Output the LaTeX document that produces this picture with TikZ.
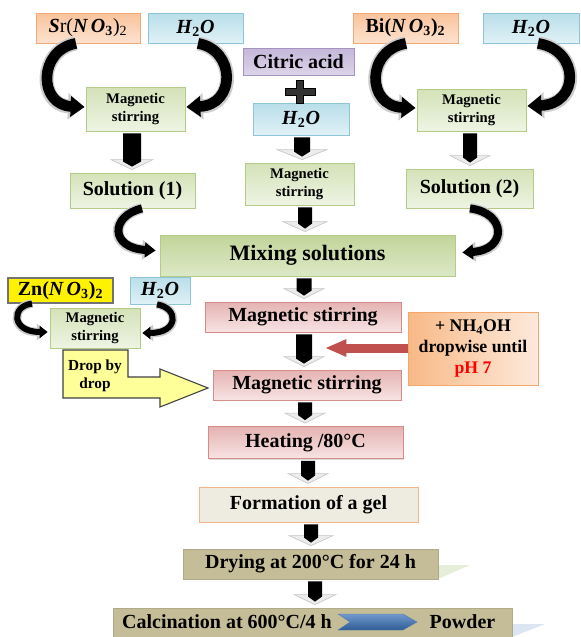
\documentclass[tikz,border=0pt]{standalone}
\usepackage{fontspec}
\setmainfont{Liberation Serif}
\usetikzlibrary{arrows.meta,shadows,calc}

\definecolor{orTop}{HTML}{F9C39B}
\definecolor{orBot}{HTML}{FCE2CF}
\definecolor{orBd}{HTML}{F2A877}
\definecolor{blTop}{HTML}{B9DEEA}
\definecolor{blBot}{HTML}{E0F1F6}
\definecolor{blBd}{HTML}{8EC6D8}
\definecolor{liTop}{HTML}{C4B7D9}
\definecolor{liBot}{HTML}{DCD4E8}
\definecolor{liBd}{HTML}{A593C2}
\definecolor{gnTop}{HTML}{D4E2B8}
\definecolor{gnBot}{HTML}{EEF4E3}
\definecolor{gnBd}{HTML}{B5CB88}
\definecolor{mxTop}{HTML}{C2D59A}
\definecolor{mxBot}{HTML}{DCE8C6}
\definecolor{pkTop}{HTML}{E4B3B2}
\definecolor{pkBot}{HTML}{F7E4E3}
\definecolor{pkBd}{HTML}{D48B89}
\definecolor{nhTop}{HTML}{F8B987}
\definecolor{nhBot}{HTML}{FDEADB}
\definecolor{nhBd}{HTML}{F4A66B}
\definecolor{gelFill}{HTML}{EEECE1}
\definecolor{gelBd}{HTML}{F5B48A}
\definecolor{tanFill}{HTML}{C4BD97}
\definecolor{dropFill}{HTML}{FFFF99}
\definecolor{arrRed}{HTML}{C0504D}
\definecolor{chevTop}{HTML}{7199CE}
\definecolor{chevBot}{HTML}{2E5C94}
\definecolor{faintGn}{HTML}{E4EED8}
\definecolor{faintBl}{HTML}{DCE6F2}

\tikzset{
  box/.style={rectangle, draw, line width=0.6pt, inner sep=1pt, align=center,
    font=\bfseries\fontsize{15}{18}\selectfont,
    drop shadow={shadow xshift=1.1pt, shadow yshift=-1.1pt, opacity=0.28}},
  orbox/.style={box, draw=orBd, top color=orTop, bottom color=orBot},
  blbox/.style={box, draw=blBd, top color=blTop, bottom color=blBot},
  libox/.style={box, draw=liBd, top color=liTop, bottom color=liBot},
  gnbox/.style={box, draw=gnBd, top color=gnTop, bottom color=gnBot},
  stirbox/.style={gnbox, font=\bfseries\fontsize{11}{13.5}\selectfont},
  mxbox/.style={box, draw=gnBd, top color=mxTop, bottom color=mxBot,
    font=\bfseries\fontsize{16.5}{19}\selectfont},
  pkbox/.style={box, draw=pkBd, top color=pkTop, bottom color=pkBot},
  nhbox/.style={box, draw=nhBd, left color=nhTop, right color=nhBot,
    font=\bfseries\fontsize{13.3}{15.5}\selectfont},
  gelbox/.style={box, draw=gelBd, fill=gelFill},
  tanbox/.style={box, draw=tanFill!90!black, fill=tanFill},
  znbox/.style={box, draw=black!55, line width=0.9pt, fill=yellow},
  bigout/.style={draw=gray!40, line width=10.5pt, -{Triangle[width=19pt,length=12.5pt]}},
  bigin/.style={draw=black, line width=8pt, -{Triangle[width=15pt,length=10.5pt]}},
  midout/.style={draw=gray!40, line width=8pt, -{Triangle[width=14.5pt,length=10pt]}},
  midin/.style={draw=black, line width=6pt, -{Triangle[width=11pt,length=8pt]}},
  smallout/.style={draw=gray!40, line width=6.5pt, -{Triangle[width=12pt,length=8pt]}},
  smallin/.style={draw=black, line width=4.5pt, -{Triangle[width=9pt,length=6pt]}},
  redarr/.style={draw=arrRed, line width=6.75pt, -{Triangle[width=12pt,length=16pt]}},
  txt/.style={inner sep=0pt, font=\bfseries\fontsize{15}{18}\selectfont}
}

% vertical block connector: source, target, x (px), shaft half width, head half width
\newcommand\vconn[5]{%
  \path[fill=gray!15, draw=gray!45, line width=0.5pt]
    let \p1=(#3,0 |- #1.south), \p2=(#3,0 |- #2.north) in
    (\x1-#5*0.75pt,\y2+9.75pt) -- (\x1+#5*0.75pt,\y2+9.75pt) -- (\x1,\y2+2.25pt) -- cycle;
  \path[fill=black]
    let \p1=(#3,0 |- #1.south), \p2=(#3,0 |- #2.north) in
    (\x1-#4*0.75pt,\y1-1.5pt) -- (\x1+#4*0.75pt,\y1-1.5pt) -- (\x1+#4*0.75pt,\y2+8.25pt)
    -- (\x1,\y2+4.5pt) -- (\x1-#4*0.75pt,\y2+8.25pt) -- cycle;
}
% curved connector: size, start, control1, control2, end
\newcommand\carrow[5]{%
  \draw[#1out] #2 .. controls #3 and #4 .. #5;
  \draw[#1in] #2 .. controls #3 and #4 .. #5;
}
\newcommand\chem[1]{\textbf{\textit{#1}}}

\begin{document}
\begin{tikzpicture}[x=0.75pt, y=-0.75pt]
\clip (0,0) rectangle (581,637);
\fill[white] (0,0) rectangle (581,637);

% faint background remnants
\fill[faintGn] (438,565) -- (470,565) -- (438,579) -- cycle;
\fill[faintBl] (512,624) -- (545,624) -- (512,637) -- cycle;

% ---- top row
\node[orbox, minimum width=78pt, minimum height=22.5pt] (sr) at (88,28)
  {\chem{S}\mdseries r(\chem{N\,O}\textsubscript{\bfseries 3})\textsubscript{2}};
\node[blbox, minimum width=71.25pt, minimum height=22.5pt] (h2oL) at (195.5,28)
  {\chem{H}\textsubscript{\bfseries 2}\chem{O}};
\node[orbox, minimum width=78.75pt, minimum height=22.5pt] (bi) at (405.5,28)
  {Bi(\chem{N\,O}\textsubscript{\bfseries 3})\textsubscript{\bfseries 2}};
\node[blbox, minimum width=72pt, minimum height=22.5pt] (h2oR) at (531,28)
  {\chem{H}\textsubscript{\bfseries 2}\chem{O}};
\node[libox, minimum width=83.25pt, minimum height=20.25pt] (citric) at (298.5,61.5) {Citric acid};
\node[blbox, minimum width=72pt, minimum height=24pt] (h2oC) at (301,119)
  {\chem{H}\textsubscript{\bfseries 2}\chem{O}};

% plus sign
\path[fill=black!80, draw=black, line width=0.4pt]
  (285,88) -- (296.5,88) -- (296.5,80) -- (303.5,80) -- (303.5,88) -- (315,88) -- (315,95)
  -- (303.5,95) -- (303.5,103) -- (296.5,103) -- (296.5,95) -- (285,95) -- cycle;

% ---- stirring boxes
\node[stirbox, minimum width=74.25pt, minimum height=33pt] (stirL) at (135.5,109) {Magnetic\\stirring};
\node[stirbox, minimum width=81.75pt, minimum height=31.5pt] (stirC) at (299.5,184) {Magnetic\\stirring};
\node[stirbox, minimum width=81.75pt, minimum height=31.5pt] (stirR) at (471.5,110) {Magnetic\\stirring};

% ---- solutions
\node[gnbox, minimum width=93.75pt, minimum height=26.25pt] (sol1) at (132.5,190.5) {Solution (1)};
\node[gnbox, minimum width=95.25pt, minimum height=29.25pt] (sol2) at (469.5,188.5) {Solution (2)};
\node[mxbox, minimum width=221.25pt, minimum height=30.75pt] (mix) at (307.5,255.5) {Mixing solutions};

% ---- Zn branch
\node[znbox, minimum width=78.75pt, minimum height=18.75pt] (zn) at (60.5,290.5)
  {Zn(\chem{N\,O}\textsubscript{\bfseries 3})\textsubscript{\bfseries 2}};
\node[blbox, minimum width=45pt, minimum height=20.25pt] (h2oS) at (160,290.5)
  {\chem{H}\textsubscript{\bfseries 2}\chem{O}};
\node[stirbox, minimum width=67.5pt, minimum height=30pt] (stirZ) at (95,328) {Magnetic\\stirring};

% drop by drop block arrow
\path[fill=dropFill, draw=black!75, line width=0.8pt]
  (63,350) -- (128,350) -- (128,377) -- (160,377) -- (160,369) -- (208,388)
  -- (160,407) -- (160,398) -- (63,398) -- cycle;
\node[inner sep=0pt, align=center, font=\bfseries\fontsize{11.5}{13.5}\selectfont] (dropt) at (95,376) {Drop by\\drop};

% ---- main column
\node[pkbox, minimum width=147pt, minimum height=22.5pt] (pink1) at (303,317) {Magnetic stirring};
\node[nhbox, minimum width=97.5pt, minimum height=54.75pt] (nh) at (473,348.5)
  {+ NH\textsubscript{4}OH\\dropwise until\\\textcolor{red}{pH 7}};
\node[pkbox, minimum width=141pt, minimum height=22.5pt] (pink2) at (307,385) {Magnetic stirring};
\node[pkbox, minimum width=146.25pt, minimum height=24pt] (heat) at (305.5,442.5) {Heating /80°C};
\node[gelbox, minimum width=164.25pt, minimum height=26.25pt] (gel) at (308.5,504.5) {Formation of a gel};
\node[tanbox, minimum width=191.25pt, minimum height=22.5pt] (dry) at (310.5,564) {Drying at 200°C for 24 h};
\node[tanbox, minimum width=299.25pt, minimum height=22.5pt] (calc) at (312.5,623) {};
\node[txt] (calct) at (227,622) {Calcination at 600°C/4 h};
\node[txt] (powder) at (462.5,622) {Powder};
\path[top color=chevTop, bottom color=chevBot, draw=chevBot!80, line width=0.3pt]
  (338,614) -- (403,614) -- (417,622) -- (403,630) -- (338,630) -- (350,622) -- cycle;

% ---- curved connectors
\carrow{big}{(76,0 |- sr.south)}{(38,50)}{(38,105)}{($(stirL.west)+(-1,-2)$)}
\carrow{big}{(198,0 |- h2oL.south)}{(236,50)}{(236,105)}{($(stirL.east)+(1,-2)$)}
\carrow{big}{(406,0 |- bi.south)}{(366,50)}{(366,106)}{($(stirR.west)+(-1,-2)$)}
\carrow{big}{(538,0 |- h2oR.south)}{(580,50)}{(580,104)}{($(stirR.east)+(1,-4)$)}
\carrow{mid}{(142,0 |- sol1.south)}{(110,216)}{(110,248)}{($(mix.west)+(-4,-5)$)}
\carrow{mid}{(470,0 |- sol2.south)}{(507,213)}{(507,250)}{($(mix.east)+(7,-3)$)}
\carrow{small}{(32,0 |- zn.south)}{(11,306)}{(11,332)}{($(stirZ.west)+(-2,4)$)}
\carrow{small}{(157,0 |- h2oS.south)}{(179,308)}{(179,333)}{($(stirZ.east)+(2,5)$)}

% ---- vertical block connectors
\vconn{stirL}{sol1}{132}{9}{21}
\vconn{h2oC}{stirC}{302}{8}{25}
\vconn{stirC}{mix}{305}{7}{22}
\vconn{stirR}{sol2}{470}{7}{20}
\vconn{mix}{pink1}{304}{7.5}{20}
\vconn{pink1}{pink2}{304}{8}{20}
\vconn{pink2}{heat}{305}{7}{20}
\vconn{heat}{gel}{308}{7}{20}
\vconn{gel}{dry}{311}{7}{22}
\vconn{dry}{calc}{315}{7}{21}

% ---- NH4OH arrow
\coordinate (redtip) at (325,348);
\draw[redarr] (nh.west |- redtip) -- (redtip);
\end{tikzpicture}
\end{document}
